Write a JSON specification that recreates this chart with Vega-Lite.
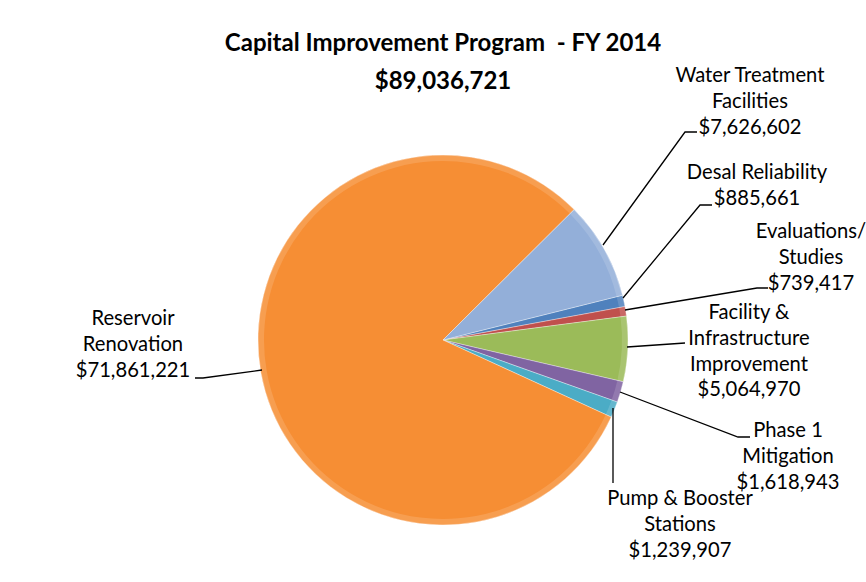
{
  "$schema": "https://vega.github.io/schema/vega-lite/v6.json",
  "autosize": {"type": "none"},
  "width": 846,
  "height": 484,
  "padding": {"left": 20, "top": 98, "right": 0, "bottom": 0},
  "background": "#ffffff",
  "config": {"view": {"stroke": null}},
  "title": {
    "text": ["Capital Improvement Program \u00a0- FY 2014", "$89,036,721"],
    "anchor": "middle",
    "frame": "group",
    "font": "Lato",
    "fontSize": 24,
    "fontWeight": "bold",
    "lineHeight": 38,
    "baseline": "top",
    "offset": -28,
    "color": "#000000"
  },
  "data": {
    "values": [
      {"cat": "Desal Reliability", "value": 885661, "label": "Desal Reliability\n$885,661"},
      {"cat": "Evaluations/Studies", "value": 739417, "label": "Evaluations/\nStudies\n$739,417"},
      {"cat": "Facility & Infrastructure Improvement", "value": 5064970, "label": "Facility &\nInfrastructure\nImprovement\n$5,064,970"},
      {"cat": "Phase 1 Mitigation", "value": 1618943, "label": "Phase 1\nMitigation\n$1,618,943"},
      {"cat": "Pump & Booster Stations", "value": 1239907, "label": "Pump & Booster\nStations\n$1,239,907"},
      {"cat": "Reservoir Renovation", "value": 71861221, "label": "Reservoir\nRenovation\n$71,861,221"},
      {"cat": "Water Treatment Facilities", "value": 7626602, "label": "Water Treatment\nFacilities\n$7,626,602"}
    ]
  },
  "layer": [
    {
      "mark": {"type": "arc", "outerRadius": 185, "stroke": "#ffffff", "strokeWidth": 0.7, "strokeOpacity": 0.5},
      "encoding": {
        "theta": {"field": "value", "type": "quantitative", "stack": true, "scale": {"range": [1.32645, 7.60964]}},
        "color": {
          "field": "cat", "type": "nominal", "legend": null,
          "scale": {
            "domain": ["Desal Reliability", "Evaluations/Studies", "Facility & Infrastructure Improvement", "Phase 1 Mitigation", "Pump & Booster Stations", "Reservoir Renovation", "Water Treatment Facilities"],
            "range": ["#4F81BD", "#C0504D", "#9BBB59", "#8064A2", "#4BACC6", "#F68E34", "#93AFD9"]
          }
        }
      }
    },
    {
      "mark": {"type": "arc", "outerRadius": 185, "innerRadius": 179, "fill": "#ffffff", "fillOpacity": 0.14},
      "encoding": {
        "theta": {"field": "value", "type": "quantitative", "stack": true},
        "detail": {"field": "cat", "type": "nominal"}
      }
    },
    {
      "mark": {"type": "point", "filled": false, "stroke": "#000000", "strokeWidth": 1.3, "size": 4, "opacity": 1},
      "encoding": {
        "shape": {
          "field": "cat", "type": "nominal", "legend": null,
          "scale": {
            "domain": ["Desal Reliability", "Evaluations/Studies", "Facility & Infrastructure Improvement", "Phase 1 Mitigation", "Pump & Booster Stations", "Reservoir Renovation", "Water Treatment Facilities"],
            "range": ["M180,-42L257,-135L269,-135", "M182,-30L314,-52L325,-52", "M184,7L242,3", "M177,52L295,97L307,97", "M170,68L170,143", "M-181,30L-240,38L-248,38", "M160,-95L242,-208L254,-208"]
          }
        }
      }
    },
    {
      "mark": {"type": "text", "radius": 185, "dx": 145.8, "dy": -182.7, "align": "center", "baseline": "top", "lineBreak": "\n", "font": "Lato", "fontSize": 20.2, "lineHeight": 25.6, "color": "#000000"},
      "encoding": {
        "theta": {"field": "value", "type": "quantitative", "stack": true},
        "detail": {"field": "cat", "type": "nominal"},
        "text": {"condition": {"test": "datum.cat === 'Water Treatment Facilities'", "field": "label", "type": "nominal"}, "value": ""}
      }
    },
    {
      "mark": {"type": "text", "radius": 185, "dx": 133.2, "dy": -137.5, "align": "center", "baseline": "top", "lineBreak": "\n", "font": "Lato", "fontSize": 20.2, "lineHeight": 25.6, "color": "#000000"},
      "encoding": {
        "theta": {"field": "value", "type": "quantitative", "stack": true},
        "detail": {"field": "cat", "type": "nominal"},
        "text": {"condition": {"test": "datum.cat === 'Desal Reliability'", "field": "label", "type": "nominal"}, "value": ""}
      }
    },
    {
      "mark": {"type": "text", "radius": 185, "dx": 185.2, "dy": -88.9, "align": "center", "baseline": "top", "lineBreak": "\n", "font": "Lato", "fontSize": 20.2, "lineHeight": 25.6, "color": "#000000"},
      "encoding": {
        "theta": {"field": "value", "type": "quantitative", "stack": true},
        "detail": {"field": "cat", "type": "nominal"},
        "text": {"condition": {"test": "datum.cat === 'Evaluations/Studies'", "field": "label", "type": "nominal"}, "value": ""}
      }
    },
    {
      "mark": {"type": "text", "radius": 185, "dx": 121.2, "dy": -45.7, "align": "center", "baseline": "top", "lineBreak": "\n", "font": "Lato", "fontSize": 20.2, "lineHeight": 25.6, "color": "#000000"},
      "encoding": {
        "theta": {"field": "value", "type": "quantitative", "stack": true},
        "detail": {"field": "cat", "type": "nominal"},
        "text": {"condition": {"test": "datum.cat === 'Facility & Infrastructure Improvement'", "field": "label", "type": "nominal"}, "value": ""}
      }
    },
    {
      "mark": {"type": "text", "radius": 185, "dx": 167.5, "dy": 29.4, "align": "center", "baseline": "top", "lineBreak": "\n", "font": "Lato", "fontSize": 20.2, "lineHeight": 25.6, "color": "#000000"},
      "encoding": {
        "theta": {"field": "value", "type": "quantitative", "stack": true},
        "detail": {"field": "cat", "type": "nominal"},
        "text": {"condition": {"test": "datum.cat === 'Phase 1 Mitigation'", "field": "label", "type": "nominal"}, "value": ""}
      }
    },
    {
      "mark": {"type": "text", "radius": 185, "dx": 65.6, "dy": 79.8, "align": "center", "baseline": "top", "lineBreak": "\n", "font": "Lato", "fontSize": 20.2, "lineHeight": 25.6, "color": "#000000"},
      "encoding": {
        "theta": {"field": "value", "type": "quantitative", "stack": true},
        "detail": {"field": "cat", "type": "nominal"},
        "text": {"condition": {"test": "datum.cat === 'Pump & Booster Stations'", "field": "label", "type": "nominal"}, "value": ""}
      }
    },
    {
      "mark": {"type": "text", "radius": 185, "dx": -127.9, "dy": -63.1, "align": "center", "baseline": "top", "lineBreak": "\n", "font": "Lato", "fontSize": 20.2, "lineHeight": 25.6, "color": "#000000"},
      "encoding": {
        "theta": {"field": "value", "type": "quantitative", "stack": true},
        "detail": {"field": "cat", "type": "nominal"},
        "text": {"condition": {"test": "datum.cat === 'Reservoir Renovation'", "field": "label", "type": "nominal"}, "value": ""}
      }
    }
  ]
}
